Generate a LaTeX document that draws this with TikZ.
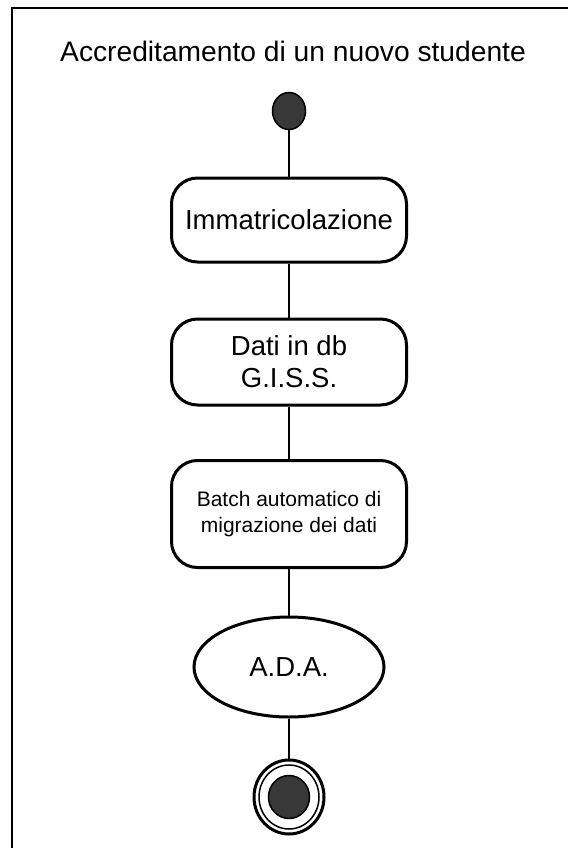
\documentclass[tikz,border=0pt]{standalone}
\usepackage{fontspec}
\setmainfont{Liberation Sans}
\usetikzlibrary{shapes.geometric}
\tikzset{
  actbox/.style={draw=black, line width=3pt, rounded corners=26pt, fill=white,
    minimum width=235pt, inner sep=0pt, align=center},
  bigtext/.style={font=\fontsize{27.5}{32}\selectfont},
  titletext/.style={font=\fontsize{28.2}{32}\selectfont},
  smalltext/.style={font=\fontsize{21}{26}\selectfont},
  conn/.style={draw=black, line width=2.2pt},
  startdot/.style={ellipse, draw=black, line width=1.5pt, fill=black!78,
    minimum width=33pt, minimum height=37pt, inner sep=0pt},
}
\begin{document}
\begin{tikzpicture}[x=1pt,y=-1pt]
\useasboundingbox (0,0) rectangle (568,848);
\draw[line width=2pt] (12,848) -- (12,8) -- (568,8);
\node[titletext, anchor=base] (title) at (293,62) {Accreditamento di un nuovo studente};
\node[startdot] (start) at (289,111) {};
\node[actbox, bigtext, minimum height=84pt] (imm) at (289,220) {Immatricolazione};
\node[actbox, bigtext, minimum height=86pt] (dati) at (289,362) {Dati in db\\G.I.S.S.};
\node[actbox, smalltext, minimum height=107pt] (batch) at (289,514) {Batch automatico di\\migrazione dei dati};
\node[ellipse, draw=black, line width=3pt, fill=white, bigtext,
  minimum width=190pt, minimum height=100pt, inner sep=0pt] (ada) at (289,667) {A.D.A.};
\node[ellipse, draw=black, line width=3pt, fill=white,
  minimum width=70pt, minimum height=74pt, inner sep=0pt] (end) at (289,797) {};
\node[ellipse, draw=black, line width=1.5pt,
  minimum width=60pt, minimum height=64pt, inner sep=0pt] (endring) at (289,797) {};
\node[startdot, minimum width=41pt, minimum height=43pt] (enddot) at (289,797) {};
\draw[conn] (start) -- (imm);
\draw[conn] (imm) -- (dati);
\draw[conn] (dati) -- (batch);
\draw[conn] (batch) -- (ada);
\draw[conn] (ada) -- (end);
\end{tikzpicture}
\end{document}
